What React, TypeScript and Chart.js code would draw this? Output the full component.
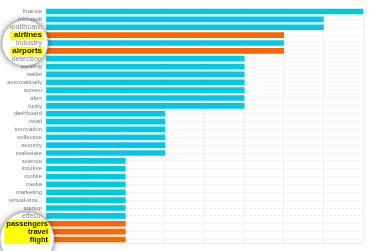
import React, { useEffect, useRef } from 'react';
import { Chart, registerables } from 'chart.js';

Chart.register(...registerables);

const categories = [
  'finance', 'microsoft', 'healthcare', 'airlines', 'industry', 'airports',
  'detection', 'banking', 'wallet', 'automatically', 'screen', 'alert', 'lucky',
  'dashboard', 'retail', 'innovation', 'collective', 'security', 'realestate',
  'science', 'intuitive', 'mobile', 'media', 'marketing', 'virtual-stra...',
  'startup', 'effective', 'passengers', 'travel', 'flight',
];
const counts = [
  8, 7, 7, 6, 6, 6,
  5, 5, 5, 5, 5, 5, 5,
  3, 3, 3, 3, 3, 3,
  2, 2, 2, 2, 2, 2,
  2, 2, 2, 2, 2,
];
const highlighted = ['airlines', 'airports', 'passengers', 'travel', 'flight'];
const xMax = 8;

const CYAN = '#00c8e4';
const ORANGE = '#ff6500';
const FONT = '"Liberation Sans", Arial, sans-serif';

const lenses = [
  { cx: 25, cy: 43, r: 23, textRight: 42, size: 8 },
  { cx: 27, cy: 239, r: 27, textRight: 48, size: 7.5 },
];

const lensPlugin = {
  id: 'lens',
  afterDraw(chart: any) {
    const ctx = chart.ctx as CanvasRenderingContext2D;
    const y = chart.scales.y;
    lenses.forEach((l) => {
      ctx.save();
      ctx.beginPath();
      ctx.arc(l.cx, l.cy, l.r, 0, Math.PI * 2);
      ctx.shadowColor = 'rgba(0,0,0,0.6)';
      ctx.shadowBlur = 6;
      ctx.fillStyle = '#ffffff';
      ctx.fill();
      ctx.shadowColor = 'transparent';
      ctx.strokeStyle = 'rgba(180,180,180,0.7)';
      ctx.lineWidth = 1;
      ctx.stroke();
      ctx.restore();

      ctx.save();
      ctx.beginPath();
      ctx.arc(l.cx, l.cy, l.r - 0.5, 0, Math.PI * 2);
      ctx.clip();
      ctx.textAlign = 'right';
      ctx.textBaseline = 'middle';
      const rows = categories
        .map((c, i) => ({ c, py: y.getPixelForTick(i) }))
        .filter((r) => r.py > l.cy - l.r - 6 && r.py < l.cy + l.r + 6);
      ctx.font = `bold ${l.size}px ${FONT}`;
      let maxW = 0;
      rows.forEach((r) => {
        if (highlighted.includes(r.c)) maxW = Math.max(maxW, ctx.measureText(r.c).width);
      });
      const rowH = y.height / categories.length;
      rows.forEach((r) => {
        if (highlighted.includes(r.c)) {
          ctx.fillStyle = '#ffff00';
          ctx.fillRect(l.textRight - maxW - 2, r.py - rowH / 2, maxW + 3, rowH + 0.5);
        }
      });
      rows.forEach((r) => {
        const hl = highlighted.includes(r.c);
        ctx.font = hl ? `bold ${l.size}px ${FONT}` : `${l.size - 0.5}px ${FONT}`;
        ctx.fillStyle = hl ? '#111111' : '#888888';
        ctx.fillText(r.c, l.textRight, r.py);
      });
      ctx.restore();
    });
  },
};

export default function App() {
  const ref = useRef<HTMLCanvasElement | null>(null);

  useEffect(() => {
    document.body.style.margin = '0';
    if (!ref.current) return;
    const chart = new Chart(ref.current, {
      type: 'bar',
      data: {
        labels: categories,
        datasets: [
          {
            data: counts,
            backgroundColor: categories.map((c) => (highlighted.includes(c) ? ORANGE : CYAN)),
            barThickness: 5,
            borderWidth: 0,
          },
        ],
      },
      options: {
        indexAxis: 'y',
        animation: false,
        responsive: false,
        maintainAspectRatio: false,
        layout: { padding: { top: 4, right: 7, bottom: 5, left: 0 } },
        plugins: {
          legend: { display: false },
          tooltip: { enabled: false },
        },
        scales: {
          x: {
            min: 0,
            max: xMax,
            ticks: { display: false, stepSize: 1 },
            grid: { color: '#e2e2e2', drawTicks: false, lineWidth: 1 },
            border: { display: true, color: '#e8e8e8', dash: [2, 2] },
          },
          y: {
            afterFit: (s: any) => {
              s.width = 46;
            },
            ticks: {
              autoSkip: false,
              padding: 4,
              color: '#7a7a7a',
              font: { size: 6, family: FONT },
            },
            grid: { color: '#eaeaea', drawTicks: false, offset: false },
            border: { display: false, dash: [2, 2] },
          },
        },
      },
      plugins: [lensPlugin],
    });
    return () => chart.destroy();
  }, []);

  return (
    <div style={{ position: 'absolute', left: 0, top: 0, width: 370, height: 251 }}>
      <canvas ref={ref} width={370} height={251} style={{ width: 370, height: 251 }} />
    </div>
  );
}
